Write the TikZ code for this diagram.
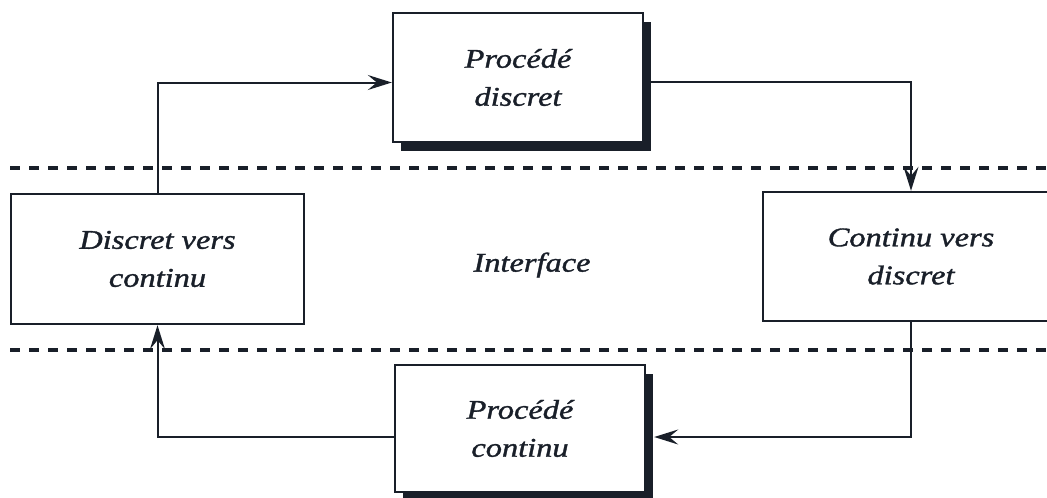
\documentclass[tikz,border=0pt]{standalone}
\usepackage{fontspec}
\setmainfont{Liberation Serif}[FakeStretch=1.2, ItalicFeatures={FakeBold=1.3}]
\usetikzlibrary{arrows.meta,shadows}
\definecolor{ink}{rgb}{0.10,0.12,0.16}
\begin{document}
\begin{tikzpicture}[x=1pt,y=-1pt,
  label/.style={font=\fontsize{27}{38}\selectfont\itshape, text=ink, align=center},
  block/.style={draw=ink, line width=2.4pt, fill=white, label, inner sep=0pt},
  shadowed/.style={drop shadow={shadow xshift=8pt, shadow yshift=-9pt, fill=ink, opacity=1}},
  link/.style={draw=ink, line width=2pt, -{Stealth[length=24pt,width=15pt,inset=9pt]}},
  border/.style={draw=ink, line width=3.5pt, dash pattern=on 10pt off 9pt}]
\useasboundingbox (0,0) rectangle (1047,498);
\begin{scope}
\clip (0,0) rectangle (1047,498);
% interface limits
\draw[border] (10,168) -- (1047,168);
\draw[border] (10,350) -- (1047,350);
% blocks
\node[block, shadowed, minimum width=250pt, minimum height=129pt] (pd) at (518,77.5) {Procédé\\discret};
\node[block, minimum width=293pt, minimum height=130pt] (dc) at (157.5,259) {Discret vers\\continu};
\node[block, minimum width=296pt, minimum height=129pt] (cd) at (911,256.5) {Continu vers\\discret};
\node[block, shadowed, minimum width=250pt, minimum height=127pt] (pc) at (520,428.5) {Procédé\\continu};
\node[label] (itf) at (532,265) {Interface};
% loop
\draw[link] (dc.north) |- ([yshift=-5pt]pd.west);
\draw[link] ([yshift=-4pt]pd.east) -| (cd.north);
\draw[link] (cd.south) |- ([xshift=8pt,yshift=-8.5pt]pc.east);
\draw[link] ([yshift=-8.5pt]pc.west) -| (dc.south);
\end{scope}
\end{tikzpicture}
\end{document}
